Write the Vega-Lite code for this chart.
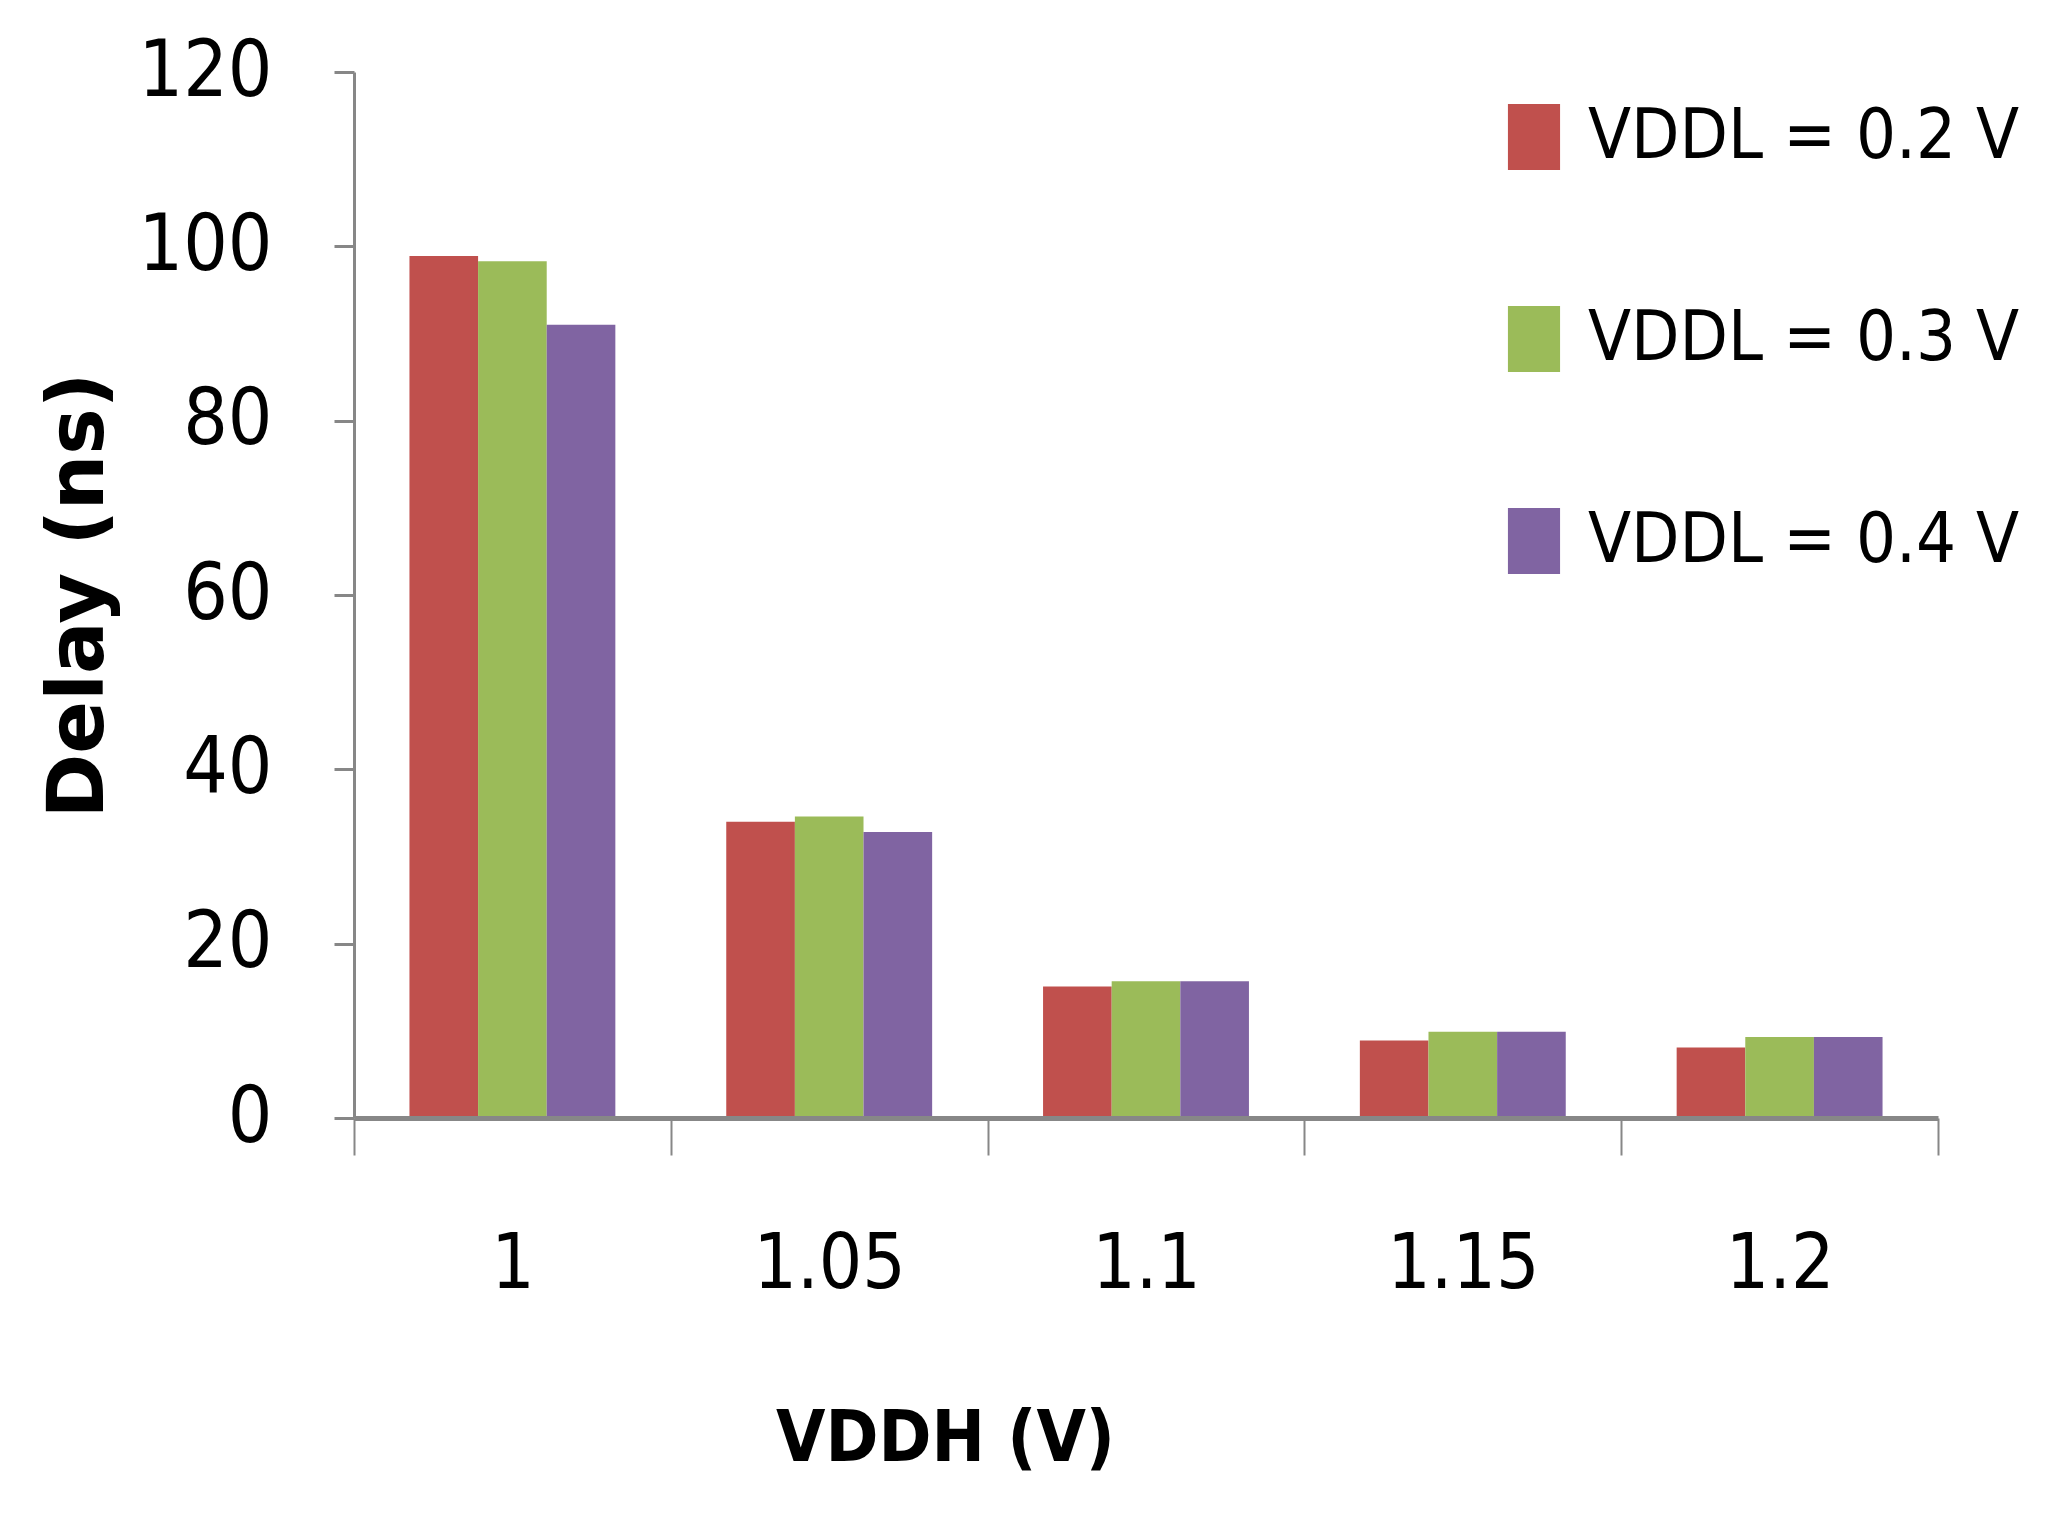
{
  "$schema": "https://vega.github.io/schema/vega-lite/v6.json",
  "autosize": {"type": "none"},
  "width": 1584,
  "height": 1046,
  "padding": {"left": 354, "top": 72, "right": 110, "bottom": 404},
  "background": "white",
  "data": {
    "values": [
      {"VDDH": "1", "VDDL": "VDDL = 0.2 V", "delay": 98.9},
      {"VDDH": "1", "VDDL": "VDDL = 0.3 V", "delay": 98.3},
      {"VDDH": "1", "VDDL": "VDDL = 0.4 V", "delay": 91.0},
      {"VDDH": "1.05", "VDDL": "VDDL = 0.2 V", "delay": 34.0},
      {"VDDH": "1.05", "VDDL": "VDDL = 0.3 V", "delay": 34.6},
      {"VDDH": "1.05", "VDDL": "VDDL = 0.4 V", "delay": 32.8},
      {"VDDH": "1.1", "VDDL": "VDDL = 0.2 V", "delay": 15.1},
      {"VDDH": "1.1", "VDDL": "VDDL = 0.3 V", "delay": 15.7},
      {"VDDH": "1.1", "VDDL": "VDDL = 0.4 V", "delay": 15.7},
      {"VDDH": "1.15", "VDDL": "VDDL = 0.2 V", "delay": 8.9},
      {"VDDH": "1.15", "VDDL": "VDDL = 0.3 V", "delay": 9.9},
      {"VDDH": "1.15", "VDDL": "VDDL = 0.4 V", "delay": 9.9},
      {"VDDH": "1.2", "VDDL": "VDDL = 0.2 V", "delay": 8.1},
      {"VDDH": "1.2", "VDDL": "VDDL = 0.3 V", "delay": 9.3},
      {"VDDH": "1.2", "VDDL": "VDDL = 0.4 V", "delay": 9.3}
    ]
  },
  "mark": {"type": "bar"},
  "encoding": {
    "x": {
      "field": "VDDH",
      "type": "nominal",
      "sort": ["1", "1.05", "1.1", "1.15", "1.2"],
      "scale": {"paddingInner": 0, "paddingOuter": 0},
      "axis": {
        "zindex": 1,
        "labelAngle": 0,
        "grid": false,
        "domainColor": "#878787",
        "domainWidth": 5,
        "tickColor": "#878787",
        "tickWidth": 2,
        "tickSize": 37,
        "tickBand": "extent",
        "labelFont": "'DejaVu Sans Condensed', 'Liberation Sans', sans-serif",
        "labelFontSize": 76,
        "labelColor": "black",
        "labelPadding": 72,
        "title": "VDDH (V)",
        "titleFont": "'DejaVu Sans Condensed', 'Liberation Sans', sans-serif",
        "titleFontWeight": "bold",
        "titleFontSize": 71,
        "titleColor": "black",
        "titleX": 591,
        "titleY": 286,
        "titleAlign": "center",
        "titleBaseline": "top"
      }
    },
    "xOffset": {
      "field": "VDDL",
      "type": "nominal",
      "scale": {"paddingInner": 0, "paddingOuter": 0.808}
    },
    "y": {
      "field": "delay",
      "type": "quantitative",
      "scale": {"domain": [0, 120], "nice": false},
      "axis": {
        "values": [0, 20, 40, 60, 80, 100, 120],
        "grid": false,
        "domainColor": "#878787",
        "domainWidth": 3,
        "tickColor": "#878787",
        "tickWidth": 3,
        "tickSize": 20,
        "labelFont": "'DejaVu Sans Condensed', 'Liberation Sans', sans-serif",
        "labelFontSize": 78,
        "labelColor": "black",
        "labelPadding": 62,
        "labelFlush": false,
        "labelOverlap": false,
        "title": "Delay (ns)",
        "titleFont": "DejaVu Sans",
        "titleFontWeight": "bold",
        "titleFontSize": 78,
        "titleColor": "black",
        "titleAngle": 270,
        "titleX": -252,
        "titleY": 523,
        "titleAlign": "center",
        "titleBaseline": "alphabetic"
      }
    },
    "color": {
      "field": "VDDL",
      "type": "nominal",
      "scale": {
        "domain": ["VDDL = 0.2 V", "VDDL = 0.3 V", "VDDL = 0.4 V"],
        "range": ["#C0504D", "#9BBB59", "#8064A2"]
      },
      "legend": {
        "title": null,
        "orient": "none",
        "legendX": 1145,
        "legendY": 30,
        "padding": 0,
        "symbolType": "M-0.79,-1H0.79V1H-0.79Z",
        "symbolSize": 4356,
        "symbolStrokeWidth": 0,
        "symbolOpacity": 1,
        "labelFont": "'DejaVu Sans Condensed', 'Liberation Sans', sans-serif",
        "labelFontSize": 70,
        "labelColor": "black",
        "labelOffset": 19,
        "rowPadding": 132,
        "labelLimit": 1000
      }
    }
  },
  "config": {"view": {"stroke": null}}
}
